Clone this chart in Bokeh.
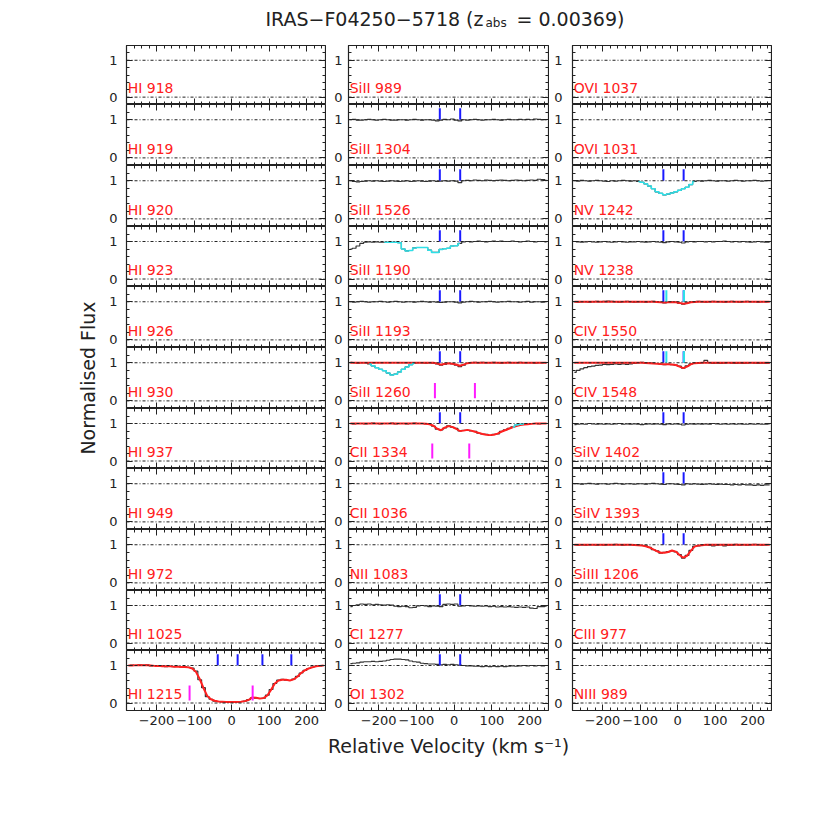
from bokeh.plotting import figure
from bokeh.layouts import gridplot, column, row
from bokeh.models import Range1d, LinearAxis, FixedTicker, Span, Label
from bokeh.embed import file_html
from bokeh.resources import INLINE
import math

FONT = "DejaVu Sans"

# ---------------- data ----------------
VEL = [-275, -265, -255, -245, -235, -225, -215, -205, -195, -185, -175, -165, -155,
       -145, -135, -125, -115, -105, -95, -85, -75, -65, -55, -45, -35, -25, -15, -5,
       5, 15, 25, 35, 45, 55, 65, 75, 85, 95, 105, 115, 125, 135, 145, 155, 165, 175,
       185, 195, 205, 215, 225, 235, 245]

X_MAJOR = [-200, -100, 0, 100, 200]
X_MINOR = [-280, -260, -240, -220, -180, -160, -140, -120, -80, -60, -40, -20, 20, 40,
           60, 80, 120, 140, 160, 180, 220, 240]
X_LABELS = {-200: "\u2212200", -100: "\u2212100", 0: "0", 100: "100", 200: "200"}
Y_MAJOR = [0, 1]
Y_MINOR = [-0.2, 0.2, 0.4, 0.6, 0.8, 1.2, 1.4]
REF_LEVELS = [0, 1]

TITLE_MAIN = "IRAS\u2212F04250\u22125718 (z"
TITLE_SUB = "abs"
TITLE_END = "= 0.00369)"
X_TITLE = "Relative Velocity (km s\u207b\u00b9)"
Y_TITLE = "Normalised Flux"

COL1 = ["HI 918", "HI 919", "HI 920", "HI 923", "HI 926", "HI 930", "HI 937",
        "HI 949", "HI 972", "HI 1025", "HI 1215"]
COL2 = ["SiII 989", "SiII 1304", "SiII 1526", "SiII 1190", "SiII 1193", "SiII 1260",
        "CII 1334", "CII 1036", "NII 1083", "CI 1277", "OI 1302"]
COL3 = ["OVI 1037", "OVI 1031", "NV 1242", "NV 1238", "CIV 1550", "CIV 1548",
        "SiIV 1402", "SiIV 1393", "SiIII 1206", "CIII 977", "NIII 989"]

COMP_V = [-38, 16]
HI_COMP_V = [-37, 16, 82, 159]
CIV_CYAN_V = [-30, 17]
HI1215_MAG_V = [-112, 56]
SIII1260_MAG_V = [-51, 55]
CII1334_MAG_V = [-58, 40]

FLUX_HI_1215 = [1.00, 1.01, 1.00, 1.02, 1.01, 1.02, 0.99, 1.00, 0.98, 0.99, 0.97, 0.98, 0.97,
                0.98, 0.96, 0.97, 0.95, 0.93, 0.85, 0.62, 0.41, 0.17, 0.10, 0.05, 0.04, 0.03,
                0.02, 0.03, 0.03, 0.02, 0.04, 0.05, 0.09, 0.14, 0.13, 0.12, 0.13, 0.21, 0.36,
                0.52, 0.61, 0.63, 0.61, 0.60, 0.64, 0.71, 0.80, 0.87, 0.92, 0.96, 0.98, 0.99,
                1.00]
MODEL_HI_1215 = [1.00, 1.00, 1.01, 1.01, 1.01, 1.01, 1.00, 0.99, 0.99, 0.98, 0.98, 0.98, 0.97,
                 0.97, 0.96, 0.96, 0.95, 0.92, 0.83, 0.64, 0.40, 0.19, 0.10, 0.06, 0.04, 0.035,
                 0.03, 0.03, 0.03, 0.03, 0.035, 0.05, 0.08, 0.15, 0.14, 0.12, 0.13, 0.20, 0.35,
                 0.52, 0.60, 0.62, 0.62, 0.60, 0.63, 0.70, 0.80, 0.87, 0.92, 0.95, 0.98, 0.99,
                 1.00]

FLUX_SIII_1304 = [1.00, 1.01, 0.99, 0.99, 1.00, 1.01, 1.00, 0.99, 1.00, 1.01, 1.00, 0.99, 0.99,
                  1.00, 1.00, 0.99, 1.00, 1.01, 1.00, 0.99, 1.00, 1.00, 0.99, 0.97, 0.99, 1.01,
                  1.00, 1.02, 0.99, 0.97, 1.00, 0.99, 1.00, 1.01, 1.00, 0.99, 1.00, 1.00, 1.01,
                  1.00, 0.99, 1.00, 1.01, 1.00, 1.00, 1.01, 1.00, 1.01, 1.00, 1.02, 1.01, 1.00,
                  1.00]
FLUX_SIII_1526 = [1.00, 0.98, 0.97, 0.98, 0.99, 1.00, 0.99, 1.00, 0.99, 0.98, 0.99, 1.00, 0.99,
                  0.98, 0.99, 1.00, 0.98, 0.99, 1.00, 0.99, 0.98, 0.99, 1.00, 0.98, 0.99, 1.00,
                  0.99, 1.00, 0.99, 0.95, 1.00, 1.01, 1.00, 1.02, 1.01, 1.00, 1.02, 1.01, 1.00,
                  1.01, 1.02, 1.01, 1.00, 1.01, 1.02, 1.01, 1.00, 1.01, 1.02, 1.01, 1.04, 1.03,
                  1.01]
FLUX_SIII_1190 = [0.80, 0.82, 0.88, 0.95, 0.98, 0.99, 0.98, 0.99, 0.98, 0.98, 0.98, 0.98, 0.98,
                  0.97, 0.80, 0.75, 0.76, 0.83, 0.84, 0.84, 0.84, 0.77, 0.71, 0.71, 0.79, 0.81,
                  0.82, 0.88, 0.89, 0.95, 0.99, 1.00, 0.99, 1.00, 1.01, 1.00, 0.99, 1.00, 1.01,
                  1.00, 1.01, 1.00, 1.00, 1.01, 1.00, 0.99, 1.00, 1.01, 1.00, 0.99, 1.00, 1.00,
                  0.99]
FLUX_SIII_1193 = [1.00, 0.99, 1.00, 1.01, 1.00, 0.99, 1.00, 1.00, 1.01, 1.00, 0.99, 1.00, 1.01,
                  1.00, 0.99, 1.00, 1.00, 0.99, 1.00, 1.01, 1.00, 0.99, 1.00, 0.99, 0.98, 0.99,
                  1.00, 1.00, 0.99, 0.97, 0.99, 1.00, 1.01, 1.00, 0.99, 1.00, 1.00, 1.01, 1.00,
                  0.99, 1.00, 1.00, 1.01, 1.00, 1.00, 0.99, 1.00, 1.01, 0.99, 1.00, 1.00, 0.99,
                  1.00]
FLUX_SIII_1260 = [1.01, 1.00, 0.99, 1.00, 1.00, 0.97, 0.92, 0.87, 0.83, 0.79, 0.73, 0.68, 0.70,
                  0.76, 0.83, 0.89, 0.95, 0.99, 1.00, 1.00, 0.99, 1.00, 0.99, 0.97, 0.94, 0.96,
                  0.98, 0.97, 0.94, 0.90, 0.94, 0.98, 1.00, 1.01, 1.00, 1.01, 1.00, 1.00, 1.01,
                  1.00, 0.99, 1.00, 1.01, 1.00, 1.00, 1.01, 1.00, 1.00, 1.00, 0.99, 1.00, 1.00,
                  1.00]
MODEL_SIII_1260 = [1.00, 1.00, 1.00, 1.00, 1.00, 1.00, 1.00, 1.00, 1.00, 1.00, 1.00, 1.00, 1.00,
                   1.00, 1.00, 1.00, 1.00, 1.00, 1.00, 1.00, 1.00, 1.00, 1.00, 0.98, 0.95, 0.975,
                   0.985, 0.975, 0.955, 0.92, 0.95, 0.99, 1.00, 1.00, 1.00, 1.00, 1.00, 1.00, 1.00,
                   1.00, 1.00, 1.00, 1.00, 1.00, 1.00, 1.00, 1.00, 1.00, 1.00, 1.00, 1.00, 1.00,
                   1.00]
FLUX_CII_1334 = [1.00, 0.99, 1.00, 1.00, 0.99, 1.00, 1.01, 1.00, 0.99, 1.00, 1.00, 1.01, 0.99,
                 1.00, 1.00, 0.99, 1.00, 1.01, 1.00, 1.00, 0.99, 0.98, 0.93, 0.85, 0.83, 0.88,
                 0.94, 0.90, 0.87, 0.80, 0.82, 0.82, 0.80, 0.79, 0.74, 0.72, 0.71, 0.68, 0.71,
                 0.72, 0.79, 0.83, 0.87, 0.91, 0.96, 0.98, 0.99, 0.98, 1.00, 1.00, 0.99, 1.00,
                 1.00]
MODEL_CII_1334 = [1.00, 1.00, 1.00, 1.00, 1.00, 1.00, 1.00, 1.00, 1.00, 1.00, 1.00, 1.00, 1.00,
                  1.00, 1.00, 1.00, 1.00, 1.00, 1.00, 1.00, 0.995, 0.98, 0.94, 0.86, 0.82, 0.89,
                  0.93, 0.91, 0.86, 0.80, 0.81, 0.83, 0.81, 0.78, 0.75, 0.72, 0.70, 0.69, 0.70,
                  0.73, 0.78, 0.82, 0.86, 0.90, 0.93, 0.96, 0.97, 0.98, 0.99, 1.00, 1.00, 1.00,
                  1.00]
FLUX_CI_1277 = [0.97, 1.00, 1.02, 1.04, 1.03, 1.04, 1.02, 1.03, 1.02, 1.01, 1.02, 1.01, 0.98,
                0.97, 0.98, 0.97, 0.94, 0.95, 0.99, 1.00, 0.99, 0.97, 0.99, 0.98, 0.97, 1.03,
                1.04, 1.03, 1.04, 0.98, 0.99, 1.00, 0.99, 0.98, 0.99, 0.98, 0.99, 0.97, 0.98,
                0.96, 0.97, 0.96, 0.97, 0.96, 0.95, 0.96, 0.95, 0.96, 0.93, 0.92, 0.97, 0.97,
                0.98]
FLUX_OI_1302 = [1.05, 1.06, 1.07, 1.09, 1.10, 1.10, 1.11, 1.10, 1.11, 1.12, 1.14, 1.16, 1.17,
                1.17, 1.16, 1.15, 1.12, 1.10, 1.09, 1.06, 1.05, 1.04, 1.04, 1.03, 1.02, 1.03,
                1.02, 1.03, 1.02, 1.01, 1.00, 0.99, 0.99, 0.98, 0.98, 0.97, 0.98, 0.97, 0.98,
                0.97, 0.98, 0.97, 0.98, 0.99, 0.98, 0.99, 1.00, 0.99, 1.00, 0.99, 1.00, 0.99,
                1.00]

FLUX_NV_1242 = [1.00, 0.99, 1.01, 1.00, 0.99, 1.00, 1.01, 1.00, 0.99, 0.98, 1.00, 0.99, 1.00,
                1.01, 1.00, 0.99, 1.00, 0.98, 0.96, 0.92, 0.86, 0.79, 0.71, 0.67, 0.63, 0.65,
                0.68, 0.71, 0.75, 0.79, 0.83, 0.90, 0.98, 1.00, 0.99, 1.00, 1.01, 1.00, 0.99,
                1.00, 1.00, 0.99, 1.00, 1.01, 1.00, 0.99, 1.00, 1.00, 1.01, 1.00, 0.99, 1.00,
                1.00]
FLUX_NV_1238 = [1.00, 0.99, 0.98, 0.99, 1.00, 0.99, 0.98, 0.99, 1.00, 0.99, 0.98, 0.99, 1.00,
                0.99, 0.98, 0.99, 0.99, 1.00, 0.99, 0.98, 0.99, 1.00, 0.99, 0.98, 0.97, 0.99,
                1.00, 0.99, 0.98, 0.96, 0.99, 1.00, 0.99, 1.00, 1.00, 0.99, 1.00, 0.99, 1.00,
                1.00, 1.01, 1.00, 0.99, 1.00, 0.99, 1.00, 0.99, 0.98, 0.99, 1.00, 0.99, 0.98,
                0.98]
FLUX_CIV_1550 = [1.00, 0.99, 1.00, 1.00, 0.99, 1.00, 1.01, 1.00, 1.01, 1.02, 1.01, 1.00, 0.99,
                 1.00, 1.01, 1.00, 0.99, 1.00, 1.00, 0.99, 1.00, 1.01, 1.00, 0.98, 0.97, 0.99,
                 1.00, 0.99, 0.96, 0.94, 0.97, 0.99, 1.00, 1.01, 1.00, 0.99, 1.00, 1.01, 1.00,
                 1.00, 0.99, 1.00, 1.01, 1.00, 0.99, 1.00, 1.01, 1.00, 1.00, 0.99, 1.00, 1.00,
                 1.00]
MODEL_CIV_1550 = [1.00, 1.00, 1.00, 1.00, 1.00, 1.00, 1.00, 1.00, 1.00, 1.00, 1.00, 1.00, 1.00,
                  1.00, 1.00, 1.00, 1.00, 1.00, 1.00, 1.00, 1.00, 1.00, 0.995, 0.985, 0.98, 0.985,
                  0.99, 0.985, 0.97, 0.95, 0.96, 0.985, 0.995, 1.00, 1.00, 1.00, 1.00, 1.00, 1.00,
                  1.00, 1.00, 1.00, 1.00, 1.00, 1.00, 1.00, 1.00, 1.00, 1.00, 1.00, 1.00, 1.00,
                  1.00]
FLUX_CIV_1548 = [0.75, 0.80, 0.84, 0.87, 0.90, 0.91, 0.93, 0.94, 0.96, 0.95, 0.96, 0.97, 0.96,
                 0.97, 0.96, 0.97, 0.98, 1.00, 1.01, 0.99, 1.00, 0.99, 0.98, 0.96, 0.95, 0.96,
                 0.95, 0.94, 0.91, 0.86, 0.92, 0.97, 0.99, 0.98, 1.00, 1.06, 1.00, 0.98, 0.99,
                 0.98, 0.99, 1.00, 0.99, 0.98, 0.99, 0.98, 0.99, 1.00, 0.99, 0.98, 0.99, 0.99,
                 0.98]
MODEL_CIV_1548 = [1.00, 1.00, 1.00, 1.00, 1.00, 1.00, 1.00, 1.00, 1.00, 1.00, 1.00, 1.00, 1.00,
                  1.00, 1.00, 1.00, 1.00, 1.00, 1.00, 0.995, 0.99, 0.98, 0.975, 0.965, 0.96, 0.96,
                  0.955, 0.94, 0.90, 0.86, 0.90, 0.96, 0.99, 0.995, 1.00, 1.00, 1.00, 1.00, 1.00,
                  1.00, 1.00, 1.00, 1.00, 1.00, 1.00, 1.00, 1.00, 1.00, 1.00, 1.00, 1.00, 1.00,
                  1.00]
FLUX_SIIV_1402 = [0.97, 0.98, 0.99, 0.98, 1.00, 0.99, 0.98, 0.99, 0.98, 0.99, 0.98, 0.99, 1.00,
                  0.98, 0.99, 0.98, 0.99, 0.98, 0.97, 0.98, 0.99, 0.98, 0.99, 0.98, 0.97, 0.99,
                  0.98, 0.99, 0.98, 0.96, 0.98, 0.99, 0.98, 0.99, 0.98, 0.99, 0.98, 1.00, 0.99,
                  0.98, 0.99, 0.98, 0.99, 0.98, 0.99, 0.98, 0.98, 0.99, 0.98, 0.99, 0.98, 0.98,
                  0.99]
FLUX_SIIV_1393 = [1.00, 1.00, 0.99, 1.00, 1.01, 1.00, 0.99, 1.00, 1.00, 0.99, 1.00, 1.01, 1.00,
                  0.99, 1.00, 1.00, 0.99, 1.00, 1.00, 0.99, 1.00, 1.01, 1.00, 0.99, 0.98, 1.00,
                  1.00, 0.99, 0.98, 0.97, 1.00, 0.99, 1.00, 0.99, 0.98, 0.99, 1.00, 0.99, 0.98,
                  0.99, 0.98, 0.98, 0.97, 0.98, 0.97, 0.98, 0.97, 0.97, 0.96, 0.97, 0.96, 0.97,
                  0.97]
FLUX_SIIII_1206 = [1.00, 0.99, 1.00, 0.99, 1.00, 1.00, 0.99, 1.00, 0.99, 1.00, 1.00, 1.01, 1.00,
                   0.99, 1.00, 1.00, 0.99, 1.00, 0.98, 0.97, 0.93, 0.87, 0.84, 0.78, 0.80, 0.82,
                   0.84, 0.81, 0.74, 0.65, 0.72, 0.85, 0.96, 0.97, 0.99, 1.00, 0.99, 0.97, 0.99,
                   1.00, 0.97, 0.98, 0.99, 1.01, 0.99, 1.00, 0.99, 1.00, 1.01, 1.00, 0.99, 1.00,
                   1.00]
MODEL_SIIII_1206 = [1.00, 1.00, 1.00, 1.00, 1.00, 1.00, 1.00, 1.00, 1.00, 1.00, 1.00, 1.00, 1.00,
                    1.00, 1.00, 1.00, 0.995, 0.99, 0.98, 0.96, 0.93, 0.88, 0.83, 0.79, 0.79, 0.81,
                    0.85, 0.82, 0.73, 0.66, 0.71, 0.84, 0.95, 0.98, 0.99, 1.00, 1.00, 1.00, 1.00,
                    1.00, 1.00, 1.00, 1.00, 1.00, 1.00, 1.00, 1.00, 1.00, 1.00, 1.00, 1.00, 1.00,
                    1.00]

FLUX = {
    "HI 1215": FLUX_HI_1215,
    "SiII 1304": FLUX_SIII_1304, "SiII 1526": FLUX_SIII_1526, "SiII 1190": FLUX_SIII_1190,
    "SiII 1193": FLUX_SIII_1193, "SiII 1260": FLUX_SIII_1260, "CII 1334": FLUX_CII_1334,
    "CI 1277": FLUX_CI_1277, "OI 1302": FLUX_OI_1302,
    "NV 1242": FLUX_NV_1242, "NV 1238": FLUX_NV_1238, "CIV 1550": FLUX_CIV_1550,
    "CIV 1548": FLUX_CIV_1548, "SiIV 1402": FLUX_SIIV_1402, "SiIV 1393": FLUX_SIIV_1393,
    "SiIII 1206": FLUX_SIIII_1206,
}
MODEL = {
    "HI 1215": MODEL_HI_1215, "SiII 1260": MODEL_SIII_1260, "CII 1334": MODEL_CII_1334,
    "CIV 1550": MODEL_CIV_1550, "CIV 1548": MODEL_CIV_1548, "SiIII 1206": MODEL_SIIII_1206,
}
CYAN_RANGE = {"SiII 1190": (-190, 20), "SiII 1260": (-230, -100),
              "CII 1334": (150, 190), "NV 1242": (-110, 50)}
CYAN_TICKS = {"CIV 1550": CIV_CYAN_V, "CIV 1548": CIV_CYAN_V}
MAG_TICKS = {"HI 1215": HI1215_MAG_V, "SiII 1260": SIII1260_MAG_V, "CII 1334": CII1334_MAG_V}

# ---------------- layout / style (page pixels) ----------------
ROW_H = [59, 61, 61, 60, 61, 61, 60, 61, 61, 60, 60]
FRAME_W = [199, 200, 199]
BORDER_L = [26, 22, 23]
LEFT_STANDOFF = [9, 6, 10]
BORDER_R = 1
BOT_B = 24
TITLE_H = 45
YLAB_W = 100
XLAB_H = 30
INK = "#222222"
RED = "#ff2020"
BLUE = "#1a1aff"
CYAN = "#2ee0e8"
MAGENTA = "#ff1aff"
TICK_Y = (1.0, 1.3)
MAG_Y = (0.07, 0.47)
NAME_POS = (-277, 0.03)

XR = Range1d(-280, 250)
YR = Range1d(-0.2, 1.4)


def style_axis(ax, show_labels, size="13px"):
    ax.axis_line_color = None
    ax.major_tick_line_color = INK
    ax.minor_tick_line_color = INK
    ax.major_tick_line_width = 1
    ax.minor_tick_line_width = 1
    ax.major_tick_in = 6
    ax.major_tick_out = 0
    ax.minor_tick_in = 3
    ax.minor_tick_out = 0
    ax.major_label_text_font = FONT
    ax.major_label_text_font_size = size
    ax.major_label_text_color = INK if show_labels else None


def xticker():
    return FixedTicker(ticks=X_MAJOR, minor_ticks=X_MINOR)


def yticker():
    return FixedTicker(ticks=Y_MAJOR, minor_ticks=Y_MINOR)


def make_panel(col, r, name):
    nrows = len(ROW_H)
    bb = BOT_B if r == nrows - 1 else 0
    bl = BORDER_L[col]
    p = figure(width=bl + FRAME_W[col] + BORDER_R, height=ROW_H[r] + bb,
               x_range=XR, y_range=YR, x_axis_type=None, y_axis_type=None, title=None,
               output_backend="svg", toolbar_location=None, min_border=0,
               min_border_left=bl, min_border_right=BORDER_R,
               min_border_top=0, min_border_bottom=bb)
    p.outline_line_color = INK
    p.outline_line_width = 1.2
    p.background_fill_color = "white"
    p.border_fill_color = "white"

    left = LinearAxis(ticker=yticker())
    style_axis(left, True)
    left.major_label_standoff = LEFT_STANDOFF[col]
    p.add_layout(left, "left")

    right = LinearAxis(ticker=yticker(), fixed_location=XR.end)
    style_axis(right, False)
    p.add_layout(right, "right")

    top = LinearAxis(ticker=xticker(), fixed_location=YR.end)
    style_axis(top, False)
    p.add_layout(top, "above")

    if r == nrows - 1:
        bottom = LinearAxis(ticker=xticker(), major_label_overrides=X_LABELS)
        style_axis(bottom, True)
        bottom.major_label_standoff = 5
    else:
        bottom = LinearAxis(ticker=xticker(), fixed_location=YR.start)
        style_axis(bottom, False)
    p.add_layout(bottom, "below")

    for lev in REF_LEVELS:
        p.add_layout(Span(location=lev, dimension="width", line_color=INK,
                          line_width=1, line_dash="3 2 1 2"))

    if name in FLUX:
        flux = FLUX[name]
        p.step(VEL, flux, mode="center", line_color="#333333", line_width=1.2)
        if name in MODEL:
            p.line(VEL, MODEL[name], line_color=RED, line_width=2)
        if name in CYAN_RANGE:
            lo, hi = CYAN_RANGE[name]
            cv = [v for v in VEL if lo <= v <= hi]
            cf = [f for v, f in zip(VEL, flux) if lo <= v <= hi]
            p.step(cv, cf, mode="center", line_color=CYAN, line_width=1.5)
        comps = HI_COMP_V if name == "HI 1215" else COMP_V
        p.segment(x0=comps, y0=[TICK_Y[0]] * len(comps), x1=comps,
                  y1=[TICK_Y[1]] * len(comps), line_color=BLUE, line_width=2)
        if name in CYAN_TICKS:
            ct = CYAN_TICKS[name]
            p.segment(x0=ct, y0=[TICK_Y[0]] * len(ct), x1=ct, y1=[TICK_Y[1]] * len(ct),
                      line_color=CYAN, line_width=2)
        if name in MAG_TICKS:
            mt = MAG_TICKS[name]
            p.segment(x0=mt, y0=[MAG_Y[0]] * len(mt), x1=mt, y1=[MAG_Y[1]] * len(mt),
                      line_color=MAGENTA, line_width=2)

    p.add_layout(Label(x=NAME_POS[0], y=NAME_POS[1], text=name, text_color=RED,
                       text_font=FONT, text_font_size="14px", text_baseline="bottom"))
    return p


def blank(w, h, xr, yr):
    f = figure(width=w, height=h, x_range=xr, y_range=yr, x_axis_type=None,
               y_axis_type=None, title=None, output_backend="svg",
               toolbar_location=None, min_border=0, min_border_left=0,
               min_border_right=0, min_border_top=0, min_border_bottom=0)
    f.outline_line_color = None
    f.background_fill_color = "white"
    f.border_fill_color = "white"
    f.grid.visible = False
    return f


rows = []
for r in range(len(ROW_H)):
    rows.append([make_panel(0, r, COL1[r]), make_panel(1, r, COL2[r]),
                 make_panel(2, r, COL3[r])])
grid = gridplot(rows, toolbar_location=None)

grid_w = sum(BORDER_L) + sum(FRAME_W) + 3 * BORDER_R
grid_h = sum(ROW_H) + BOT_B
total_w = YLAB_W + grid_w

# title strip (coordinates are page pixels, y downward)
title_fig = blank(total_w, TITLE_H, Range1d(0, total_w), Range1d(TITLE_H, 0))
title_fig.add_layout(Label(x=483, y=18.5, text=TITLE_MAIN, text_align="right",
                           text_baseline="alphabetic", text_font=FONT,
                           text_font_size="19px", text_color=INK))
title_fig.add_layout(Label(x=485, y=22, text=TITLE_SUB, text_align="left",
                           text_baseline="alphabetic", text_font=FONT,
                           text_font_size="12px", text_color=INK))
title_fig.add_layout(Label(x=516, y=18.5, text=TITLE_END, text_align="left",
                           text_baseline="alphabetic", text_font=FONT,
                           text_font_size="19px", text_color=INK))

# y-axis title strip
ylab_fig = blank(YLAB_W, grid_h, Range1d(0, YLAB_W),
                 Range1d(TITLE_H + grid_h, TITLE_H))
ylab_fig.add_layout(Label(x=87, y=377.5, text=Y_TITLE, angle=math.pi / 2,
                          text_align="center", text_baseline="middle", text_font=FONT,
                          text_font_size="19px", text_color=INK))

# x-axis title strip
top_x = TITLE_H + grid_h
xlab_fig = blank(total_w, XLAB_H, Range1d(0, total_w), Range1d(top_x + XLAB_H, top_x))
xlab_fig.add_layout(Label(x=448, y=745, text=X_TITLE, text_align="center",
                          text_baseline="middle", text_font=FONT,
                          text_font_size="19px", text_color=INK))

layout = column(title_fig, row(ylab_fig, grid), xlab_fig)

open("out.html", "w").write(file_html(layout, INLINE))
